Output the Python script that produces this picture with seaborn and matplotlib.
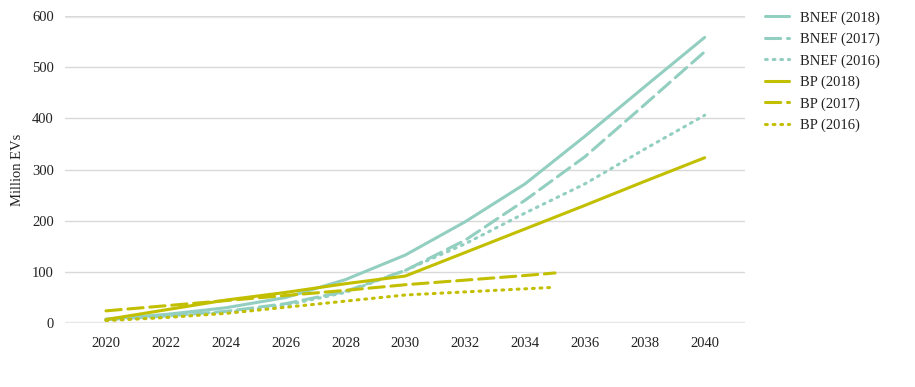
import pandas as pd
import seaborn as sns
import matplotlib.pyplot as plt

# forecasts of EV fleet, million vehicles
years = [2020, 2022, 2024, 2026, 2028, 2030, 2032, 2034, 2036, 2038, 2040]
bnef_2018 = [8, 17, 30, 50, 85, 133, 198, 272, 365, 462, 558]
bnef_2017 = [7, 14, 23, 38, 62, 103, 162, 240, 325, 427, 530]
bnef_2016 = [6, 13, 21, 35, 60, 103, 155, 215, 272, 340, 406]
bp_2018 = [7, 26, 45, 60, 77, 92, 138, 184, 230, 277, 323]

bp_years = [2020, 2022, 2024, 2026, 2028, 2030, 2032, 2034, 2035]
bp_2017 = [24, 34, 44, 54, 64, 75, 84, 93, 98]
bp_2016 = [5, 11, 19, 31, 43, 55, 61, 67, 70]

labels = ["BNEF (2018)", "BNEF (2017)", "BNEF (2016)", "BP (2018)", "BP (2017)", "BP (2016)"]

frames = []
for name, xs, ys in [(labels[0], years, bnef_2018), (labels[1], years, bnef_2017),
                     (labels[2], years, bnef_2016), (labels[3], years, bp_2018),
                     (labels[4], bp_years, bp_2017), (labels[5], bp_years, bp_2016)]:
    frames.append(pd.DataFrame({"year": xs, "value": ys, "series": name}))
df = pd.concat(frames)

teal = "#93cfc0"
olive = "#c2bf00"
palette = {labels[0]: teal, labels[1]: teal, labels[2]: teal,
           labels[3]: olive, labels[4]: olive, labels[5]: olive}
dashes = {labels[0]: "", labels[1]: (5, 2.2), labels[2]: (0.6, 1.9),
          labels[3]: "", labels[4]: (5, 2.2), labels[5]: (0.6, 1.9)}

sns.set_style("white")
plt.rcParams["font.family"] = ["Liberation Serif", "DejaVu Serif"]

fig = plt.figure(figsize=(9.15, 3.87), dpi=100)
ax = fig.add_axes([0.071, 0.165, 0.743, 0.794])

sns.lineplot(data=df, x="year", y="value", hue="series", style="series",
             palette=palette, dashes=dashes, hue_order=labels, style_order=labels,
             linewidth=2.2, ax=ax, legend=True)
for ln in ax.get_lines():
    ln.set_dash_capstyle("round")

ax.set_xlim(2018.63, 2041.34)
ax.set_ylim(0, 600)
ax.set_xticks(range(2020, 2041, 2))
ax.set_yticks(range(0, 601, 100))
ax.grid(axis="y", color="#d9d9d9", linewidth=1)
ax.set_axisbelow(True)
for y in [0, 600]:
    ax.axhline(y, color="#ebebeb", linewidth=2.5, zorder=0)
sns.despine(ax=ax, left=True, bottom=True, top=True, right=True)
ax.tick_params(axis="both", length=0, labelsize=10.5, colors="#222222")
ax.tick_params(axis="x", pad=10)
ax.tick_params(axis="y", pad=8)
ax.set_xlabel("")
ax.set_ylabel("Million EVs", fontsize=10.5, color="#222222", labelpad=6)

leg = ax.legend(loc="upper left", bbox_to_anchor=(1.01, 1.058), frameon=False,
                fontsize=10.5, handlelength=1.65, labelspacing=0.55, handletextpad=0.8)
for t in leg.get_texts():
    t.set_color("#222222")
for h in leg.get_lines():
    h.set_dash_capstyle("round")

fig.savefig("out.png", dpi=100)
